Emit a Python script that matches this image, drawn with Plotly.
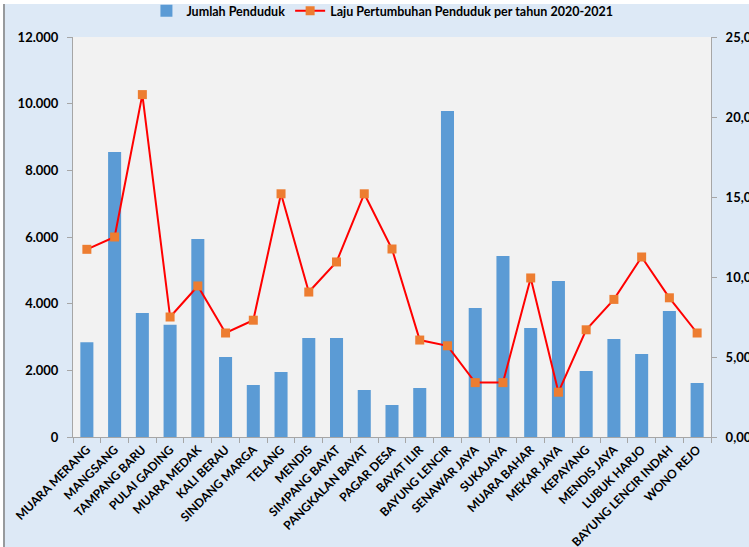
import plotly.graph_objects as go

categories = ["MUARA MERANG", "MANGSANG", "TAMPANG BARU", "PULAI GADING", "MUARA MEDAK",
              "KALI BERAU", "SINDANG MARGA", "TELANG", "MENDIS", "SIMPANG BAYAT",
              "PANGKALAN BAYAT", "PAGAR DESA", "BAYAT ILIR", "BAYUNG LENCIR", "SENAWAR JAYA",
              "SUKAJAYA", "MUARA BAHAR", "MEKAR JAYA", "KEPAYANG", "MENDIS JAYA",
              "LUBUK HARJO", "BAYUNG LENCIR INDAH", "WONO REJO"]
jumlah_penduduk = [2840, 8550, 3720, 3370, 5940, 2400, 1560, 1950, 2970, 2970,
                   1410, 960, 1470, 9780, 3870, 5430, 3270, 4680, 1980, 2940,
                   2490, 3780, 1620]
laju_pertumbuhan = [11.73, 12.5, 21.4, 7.5, 9.44, 6.5, 7.3, 15.2, 9.06, 10.94,
                    15.2, 11.75, 6.06, 5.7, 3.4, 3.4, 9.94, 2.8, 6.7, 8.6,
                    11.25, 8.7, 6.5]
left_ticks = [0, 2000, 4000, 6000, 8000, 10000, 12000]
right_ticks = [0, 5, 10, 15, 20, 25]

FONT = "Lato"

fig = go.Figure()
fig.add_trace(go.Bar(
    x=categories, y=jumlah_penduduk, name="<b>Jumlah Penduduk</b>",
    marker=dict(color="#5b9bd5", line=dict(width=0)), yaxis="y"))
fig.add_trace(go.Scatter(
    x=categories, y=laju_pertumbuhan, name="<b>Laju Pertumbuhan Penduduk per tahun 2020-2021</b>",
    mode="lines+markers", line=dict(color="#ff0000", width=2),
    marker=dict(symbol="square", size=9, color="#ed7d31"), yaxis="y2"))

axis_common = dict(showline=True, linecolor="#a6a6a6", linewidth=1, ticks="outside",
                   ticklen=5, tickcolor="#a6a6a6", showgrid=False, zeroline=False,
                   automargin=False, tickfont=dict(family=FONT, size=13, color="black", weight="bold"))

L, R, T, B = 70, 41, 33, 114
PW = 749 - L - R
PH = 547 - T - B

fig.update_layout(
    width=749, height=547,
    margin=dict(l=L, r=R, t=T, b=B, autoexpand=False),
    paper_bgcolor="#dde9f6", plot_bgcolor="#f2f2f2",
    separators=",.",
    bargap=0.53,
    font=dict(family=FONT, size=12, color="black"),
    showlegend=True,
    legend=dict(orientation="h", x=0.485, xanchor="center", yref="container",
                y=1 - 7 / 547, yanchor="middle",
                bgcolor="rgba(0,0,0,0)", font=dict(family=FONT, size=12.5), itemwidth=30,
                tracegroupgap=0),
    xaxis=dict(axis_common, tickangle=-45, tickson="boundaries", type="category",
               range=[-0.5, len(categories) - 0.5], autorange=False,
               tickfont=dict(family=FONT, size=12, color="black", weight="bold")),
    yaxis=dict(axis_common, range=[0, 12000], tickvals=left_ticks, tickformat=",d",
               ticklabelstandoff=6),
    yaxis2=dict(axis_common, overlaying="y", side="right", range=[0, 25],
                tickvals=right_ticks, tickformat=".2f", ticklabelstandoff=6),
    shapes=[dict(type="line", xref="paper", yref="paper", x0=-(L - 1) / PW, x1=-(L - 1) / PW,
                 y0=-B / PH, y1=(PH + T) / PH, line=dict(color="#7f7f7f", width=1.5))],
)

fig.write_html("out.html",
               post_script="document.body.style.margin='4px 0 0 3px';"
                           "document.body.style.overflow='hidden';")
